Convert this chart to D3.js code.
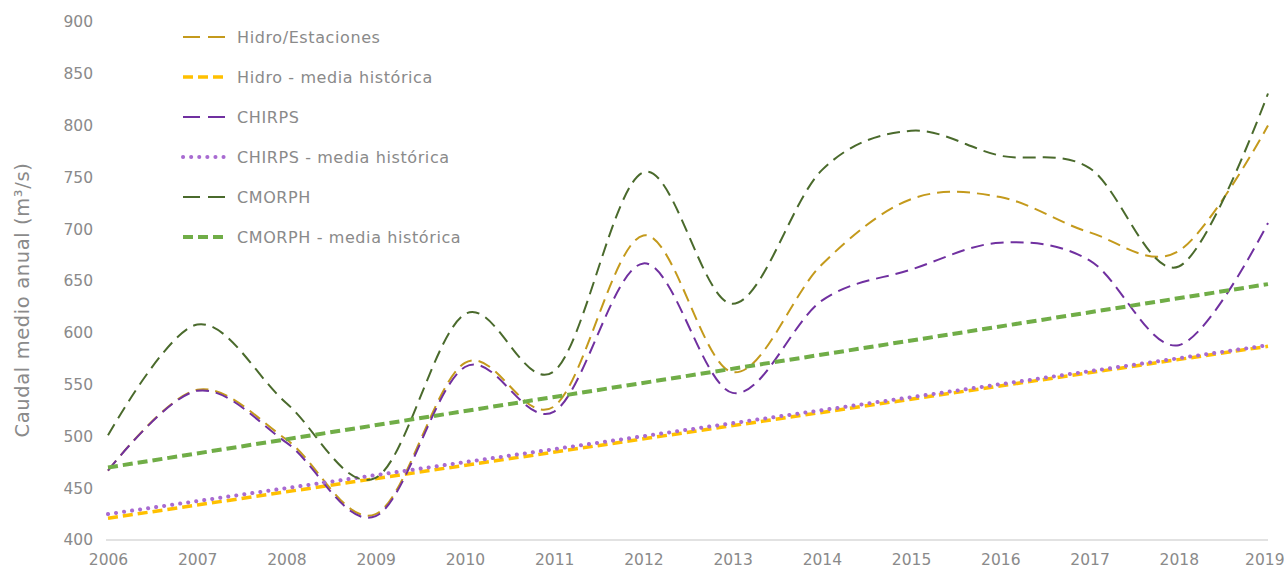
<!DOCTYPE html>
<html>
<head>
<meta charset="utf-8">
<script src="https://cdn.jsdelivr.net/npm/d3@7"></script>
<style>
  body { margin: 0; background: #fff; }
  svg text { font-family: "DejaVu Sans", sans-serif; fill: #8a8a8a; }
</style>
</head>
<body>
<div id="chart"></div>
<script>
// data
var years = [2006, 2007, 2008, 2009, 2010, 2011, 2012, 2013, 2014, 2015, 2016, 2017, 2018, 2019];
var hidro = [467, 545, 497, 425, 571, 529, 694, 562, 666, 729, 731, 697, 679, 800];
var chirps = [467, 544, 494, 423, 567, 524, 667, 542, 631, 661, 687, 670, 588, 706];
var cmorph = [501, 608, 532, 460, 618, 563, 755, 628, 757, 795, 771, 759, 664, 831];
// trend lines: value at first and last year
var trendYears = [2006, 2019];
var hidroMedia = [421, 587];
var chirpsMedia = [425, 588];
var cmorphMedia = [470, 647];
var yTicks = [400, 450, 500, 550, 600, 650, 700, 750, 800, 850, 900];

var width = 1284, height = 571;
var margin = { left: 108, right: 16, top: 22, bottom: 31 };

var svg = d3.select('#chart').append('svg')
    .attr('width', width)
    .attr('height', height);

var x = d3.scaleLinear()
    .domain([2006, 2019])
    .range([margin.left, width - margin.right]);

var y = d3.scaleLinear()
    .domain([400, 900])
    .range([height - margin.bottom, margin.top]);

// baseline only
svg.append('line')
    .attr('x1', x(2006) - 2).attr('x2', x(2019))
    .attr('y1', y(400)).attr('y2', y(400))
    .attr('stroke', '#d9d9d9')
    .attr('stroke-width', 1.5);

// y tick labels
svg.append('g')
    .attr('transform', 'translate(' + (margin.left - 15) + ',0)')
    .call(d3.axisLeft(y).tickValues(yTicks).tickSize(0).tickPadding(0))
    .call(g => g.select('.domain').remove())
    .selectAll('text')
    .attr('font-size', 15.5);

// x tick labels
var xAxis = svg.append('g')
    .attr('transform', 'translate(0,' + (y(400) + 14) + ')')
    .call(d3.axisBottom(x).tickValues(years).tickFormat(d3.format('d')).tickSize(0).tickPadding(0))
    .call(g => g.select('.domain').remove());
xAxis.selectAll('text').attr('font-size', 15.5);
// last label sits against the right edge
xAxis.selectAll('.tick').filter(d => d === 2019).select('text')
    .attr('text-anchor', 'end').attr('x', 16);

svg.selectAll('.tick text').attr('fill', '#8a8a8a');

// y axis title
svg.append('text')
    .attr('transform', 'translate(29,' + 300 + ') rotate(-90)')
    .attr('text-anchor', 'middle')
    .attr('font-size', 19.5)
    .attr('letter-spacing', 0.6)
    .text('Caudal medio anual (m³/s)');

var smooth = d3.line()
    .x(d => x(d[0]))
    .y(d => y(d[1]))
    .curve(d3.curveCardinal.tension(0));

var straight = d3.line()
    .x(d => x(d[0]))
    .y(d => y(d[1]));

var series = [
    { name: 'Hidro/Estaciones', values: hidro, xs: years, color: '#c49a1c', width: 2, dash: '13,7', cap: 'butt', line: smooth },
    { name: 'Hidro - media histórica', values: hidroMedia, xs: trendYears, color: '#ffc000', width: 3.5, dash: '10,5', cap: 'butt', line: straight },
    { name: 'CHIRPS', values: chirps, xs: years, color: '#7030a0', width: 2, dash: '13,7', cap: 'butt', line: smooth },
    { name: 'CHIRPS - media histórica', values: chirpsMedia, xs: trendYears, color: '#a86bd1', width: 4, dash: '0.1,8', cap: 'round', line: straight },
    { name: 'CMORPH', values: cmorph, xs: years, color: '#4a6a2c', width: 2, dash: '13,7', cap: 'butt', line: smooth },
    { name: 'CMORPH - media histórica', values: cmorphMedia, xs: trendYears, color: '#70ad47', width: 4, dash: '10,5', cap: 'butt', line: straight }
];

series.forEach(function (s) {
    var pts = s.xs.map((yr, i) => [yr, s.values[i]]);
    svg.append('path')
        .attr('d', s.line(pts))
        .attr('fill', 'none')
        .attr('stroke', s.color)
        .attr('stroke-width', s.width)
        .attr('stroke-dasharray', s.dash)
        .attr('stroke-linecap', s.cap);
});

// legend
var legend = svg.append('g').attr('transform', 'translate(183,37)');
var rows = legend.selectAll('g')
    .data(series)
    .enter().append('g')
    .attr('transform', (d, i) => 'translate(0,' + i * 40 + ')');

rows.append('line')
    .attr('x1', 0).attr('x2', 44)
    .attr('stroke', d => d.color)
    .attr('stroke-width', d => d.width)
    .attr('stroke-dasharray', d => d.name.indexOf('media') > 0 ? d.dash : '17,8')
    .attr('stroke-linecap', d => d.cap);

rows.append('text')
    .attr('x', 54)
    .attr('dy', '0.35em')
    .attr('font-size', 16)
    .attr('letter-spacing', 0.6)
    .text(d => d.name);
</script>
</body>
</html>
